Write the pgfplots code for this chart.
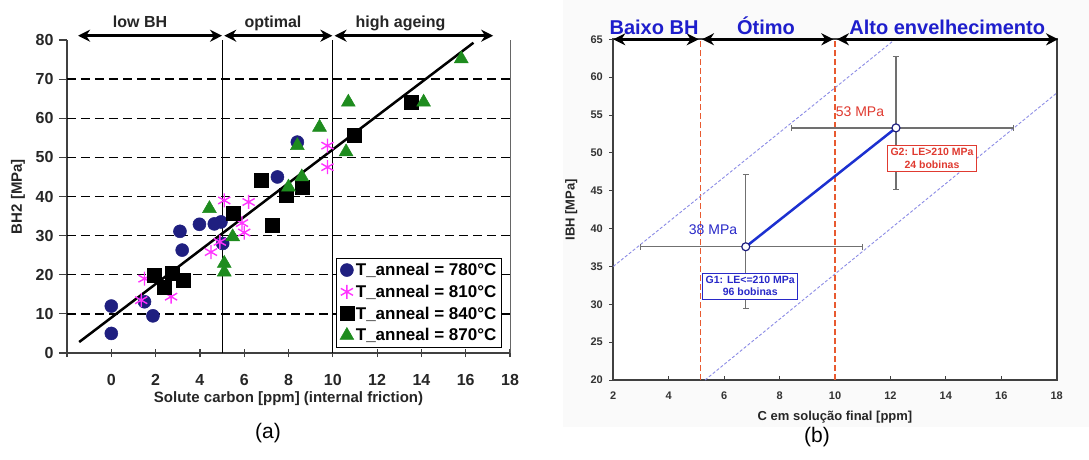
\documentclass[border=0pt]{standalone}
\usepackage{fontspec}
\setmainfont{Liberation Sans}
\usepackage{pgfplots}
\pgfplotsset{compat=1.18}
\usetikzlibrary{arrows.meta}
\definecolor{cnavy}{HTML}{1F1F80}
\definecolor{cpink}{HTML}{FF33FF}
\definecolor{cgreen}{HTML}{1E8C1E}
\definecolor{redt}{HTML}{E03A30}
\definecolor{reddash}{HTML}{E85A30}
\definecolor{bluet}{HTML}{2828C8}
\definecolor{bluel}{HTML}{1C30D0}
\definecolor{bluedot}{HTML}{8C8CE6}
\definecolor{hdrblue}{HTML}{1E1ECC}
\definecolor{errgray}{HTML}{707070}
\begin{document}
\begin{tikzpicture}[x=1pt,y=1pt]
\useasboundingbox (0,0) rectangle (1089,459);
\fill[black!2] (563,32) rectangle (1089,459);
% ---------------- panel (a) ----------------
\begin{axis}[
  at={(67pt,106pt)}, anchor=south west, scale only axis,
  width=443pt, height=313pt,
  xmin=-2, xmax=18, ymin=0, ymax=80,
  clip=false,
  axis lines*=left,
  axis line style={line width=1.5pt, black!75},
  xtick={-2,0,2,...,18},
  xticklabels={,0,2,4,6,8,10,12,14,16,18},
  ytick={0,10,...,80},
  xtick align=center, ytick align=outside,
  major tick length=8pt,
  tick style={line width=1.2pt, black!75},
  /pgf/number format/assume math mode=true,
  tick label style={font=\fontsize{16}{16}\selectfont\bfseries, text=black!85},
  xticklabel style={yshift=-14pt},
  yticklabel style={xshift=-2pt},
  xlabel={Solute carbon [ppm] (internal friction)},
  xlabel style={at={(axis description cs:0.5,0)}, anchor=center, yshift=-46pt, font=\fontsize{15}{15}\selectfont\bfseries, text=black!85},
  ylabel={BH2 [MPa]},
  ylabel style={at={(axis description cs:0,0.5)}, anchor=center, yshift=49pt, font=\fontsize{15}{15}\selectfont\bfseries, text=black!85},
  legend cell align=left,
  legend style={at={(1,0)}, anchor=south east, xshift=-8pt, yshift=5pt,
    draw=black, line width=1.2pt, inner sep=3pt, row sep=4pt,
    font=\fontsize{17}{19}\selectfont\bfseries},
]
\pgfplotsinvokeforeach{10,20,30,40,50,60,70}{
  \draw[black, line width=1.3pt, dash pattern=on 9pt off 5pt] (axis cs:-2,#1) -- (axis cs:18,#1);
}
\draw[black!60, line width=1pt] (axis cs:18,0) -- (axis cs:18,80);
\draw[black, line width=1pt] (axis cs:5,0) -- (axis cs:5,80);
\draw[black, line width=1pt] (axis cs:10,0) -- (axis cs:10,80);
\draw[line width=2.5pt, {Stealth[length=12pt,width=12pt]}-{Stealth[length=12pt,width=12pt]}] (axis cs:-1.5,81.1) -- (axis cs:5,81.1);
\draw[line width=2.5pt, {Stealth[length=12pt,width=12pt]}-{Stealth[length=12pt,width=12pt]}] (axis cs:5.1,81.1) -- (axis cs:9.98,81.1);
\draw[line width=2.5pt, {Stealth[length=12pt,width=12pt]}-{Stealth[length=12pt,width=12pt]}] (axis cs:10.08,81.1) -- (axis cs:17.24,81.1);
\node[anchor=base, font=\fontsize{16}{16}\selectfont\bfseries, text=black!85] at (axis cs:1.3,83.2) {low BH};
\node[anchor=base, font=\fontsize{16}{16}\selectfont\bfseries, text=black!85] at (axis cs:7.3,83.2) {optimal};
\node[anchor=base, font=\fontsize{16}{16}\selectfont\bfseries, text=black!85] at (axis cs:13.06,83.2) {high ageing};
\addplot[forget plot, black, line width=2.5pt] coordinates {(-1.45,2.8) (16.35,79.3)};
\addplot[only marks, mark=*, mark size=6.5pt, mark options={fill=cnavy, draw=cnavy, line width=0.5pt}] coordinates {
 (0,12) (0,5) (1.5,13.1) (1.88,9.5) (3.1,31.1) (3.2,26.3) (3.98,32.9) (4.65,33) (4.95,33.5) (5.03,28) (7.5,45) (8.4,53.9)};
\addlegendentry{T\_anneal = 780°C}
\addplot[only marks, mark=asterisk, mark size=7pt, mark options={draw=cpink, line width=1.4pt}] coordinates {
 (1.5,19) (1.35,13.5) (2.7,14.4) (4.5,25.8) (4.9,28.4) (5.1,39) (6.2,38.6) (5.9,33.2) (6.0,30.8) (9.76,53) (9.76,47.5)};
\addlegendentry{T\_anneal = 810°C}
\addplot[only marks, mark=square*, mark size=7pt, mark options={fill=black, draw=black, line width=0.5pt}] coordinates {
 (1.95,19.9) (2.4,16.9) (2.73,20.5) (3.27,18.6) (5.5,35.6) (7.28,32.7) (6.76,44.1) (7.9,40.3) (8.6,42.4) (10.96,55.6) (13.56,64.1)};
\addlegendentry{T\_anneal = 840°C}
\addplot[only marks, mark=triangle*, mark size=8pt, mark options={fill=cgreen, draw=cgreen, line width=0.5pt}] coordinates {
 (4.43,36.9) (5.1,22.9) (5.1,20.7) (5.48,29.7) (8.0,42.4) (8.6,45) (8.4,53) (9.4,57.7) (10.6,51.4) (10.7,64.1) (14.1,64.1) (15.8,75.2)};
\addlegendentry{T\_anneal = 870°C}
\end{axis}
% ---------------- panel (b) ----------------
\begin{axis}[
  at={(613.3pt,79pt)}, anchor=south west, scale only axis,
  width=443.4pt, height=340.7pt,
  xmin=2, xmax=18, ymin=20, ymax=65,
  clip=false,
  axis background/.style={fill=white},
  axis line style={line width=2pt, black!75},
  xtick={2,4,...,18}, ytick={20,25,...,65},
  xtick pos=left, ytick pos=left,
  xtick align=inside, ytick align=outside,
  major tick length=4pt,
  tick style={line width=1pt, black!75},
  /pgf/number format/assume math mode=true,
  tick label style={font=\fontsize{11}{11}\selectfont\bfseries, text=black!80},
  xticklabel style={yshift=-8pt},
  yticklabel style={xshift=-3pt},
  xlabel={C em solução final [ppm]},
  xlabel style={at={(axis description cs:0.5,0)}, anchor=center, yshift=-37pt, font=\fontsize{13}{13}\selectfont\bfseries, text=black!85},
  ylabel={IBH [MPa]},
  ylabel style={at={(axis description cs:0,0.5)}, anchor=center, yshift=42pt, font=\fontsize{13}{13}\selectfont\bfseries, text=black!85},
]
\draw[reddash, line width=1.2pt, dash pattern=on 6pt off 3pt] (axis cs:5.14,20) -- (axis cs:5.14,65);
\draw[reddash, line width=1.2pt, dash pattern=on 6pt off 3pt] (axis cs:10,20) -- (axis cs:10,65);
\addplot[forget plot, bluedot, line width=0.9pt, dash pattern=on 3pt off 2pt] coordinates {(2,35) (12.17,65)};
\addplot[forget plot, bluedot, line width=0.9pt, dash pattern=on 3pt off 2pt] coordinates {(5.31,20) (18,57.9)};
\addplot[forget plot, draw=none, mark=none,
  error bars/.cd, x dir=both, x explicit, y dir=both, y explicit,
  error bar style={draw=errgray, line width=1.3pt, solid},
  error mark options={rotate=90, mark size=3pt, draw=errgray, line width=1pt}]
  coordinates {(6.78,37.6) += (4.2,9.5) -= (3.8,8.1) (12.2,53.3) += (4.24,9.4) -= (3.76,8.2)};
\addplot[forget plot, bluel, line width=2.5pt] coordinates {(6.78,37.6) (12.2,53.3)};
\addplot[forget plot, only marks, mark=*, mark size=4pt, mark options={fill=white, draw=cnavy, line width=1.2pt}] coordinates {(6.78,37.6) (12.2,53.3)};
\draw[line width=2.5pt, {Stealth[length=12pt,width=12pt]}-{Stealth[length=12pt,width=12pt]}] (axis cs:2,65) -- (axis cs:5.08,65);
\draw[line width=2.5pt, {Stealth[length=12pt,width=12pt]}-{Stealth[length=12pt,width=12pt]}] (axis cs:5.2,65) -- (axis cs:9.94,65);
\draw[line width=2.5pt, {Stealth[length=12pt,width=12pt]}-{Stealth[length=12pt,width=12pt]}] (axis cs:10.07,65) -- (axis cs:18.05,65);
\node[anchor=base, font=\fontsize{20}{20}\selectfont\bfseries, text=hdrblue] at (axis cs:3.47,65.7) {Baixo BH};
\node[anchor=base, font=\fontsize{20}{20}\selectfont\bfseries, text=hdrblue] at (axis cs:7.51,65.7) {Ótimo};
\node[anchor=base, font=\fontsize{20}{20}\selectfont\bfseries, text=hdrblue] at (axis cs:14.05,65.7) {Alto envelhecimento};
\node[text=redt, font=\fontsize{14}{14}\selectfont] at (axis cs:10.9,55.4) {53 MPa};
\node[text=bluet, font=\fontsize{14}{14}\selectfont] at (axis cs:5.6,39.8) {38 MPa};
\node[draw=redt, fill=white, text=redt, line width=0.8pt, align=center, inner sep=3pt, font=\fontsize{10.5}{12.5}\selectfont\bfseries] at (axis cs:13.5,49.3) {G2: LE>210 MPa\\24 bobinas};
\node[draw=bluet, fill=white, text=bluet, line width=0.8pt, align=center, inner sep=3pt, font=\fontsize{10.5}{12.5}\selectfont\bfseries] at (axis cs:6.94,32.4) {G1: LE<=210 MPa\\96 bobinas};
\end{axis}
\node[font=\fontsize{21}{21}\selectfont] at (268,26) {(a)};
\node[font=\fontsize{21}{21}\selectfont] at (817,22) {(b)};
\end{tikzpicture}
\end{document}
